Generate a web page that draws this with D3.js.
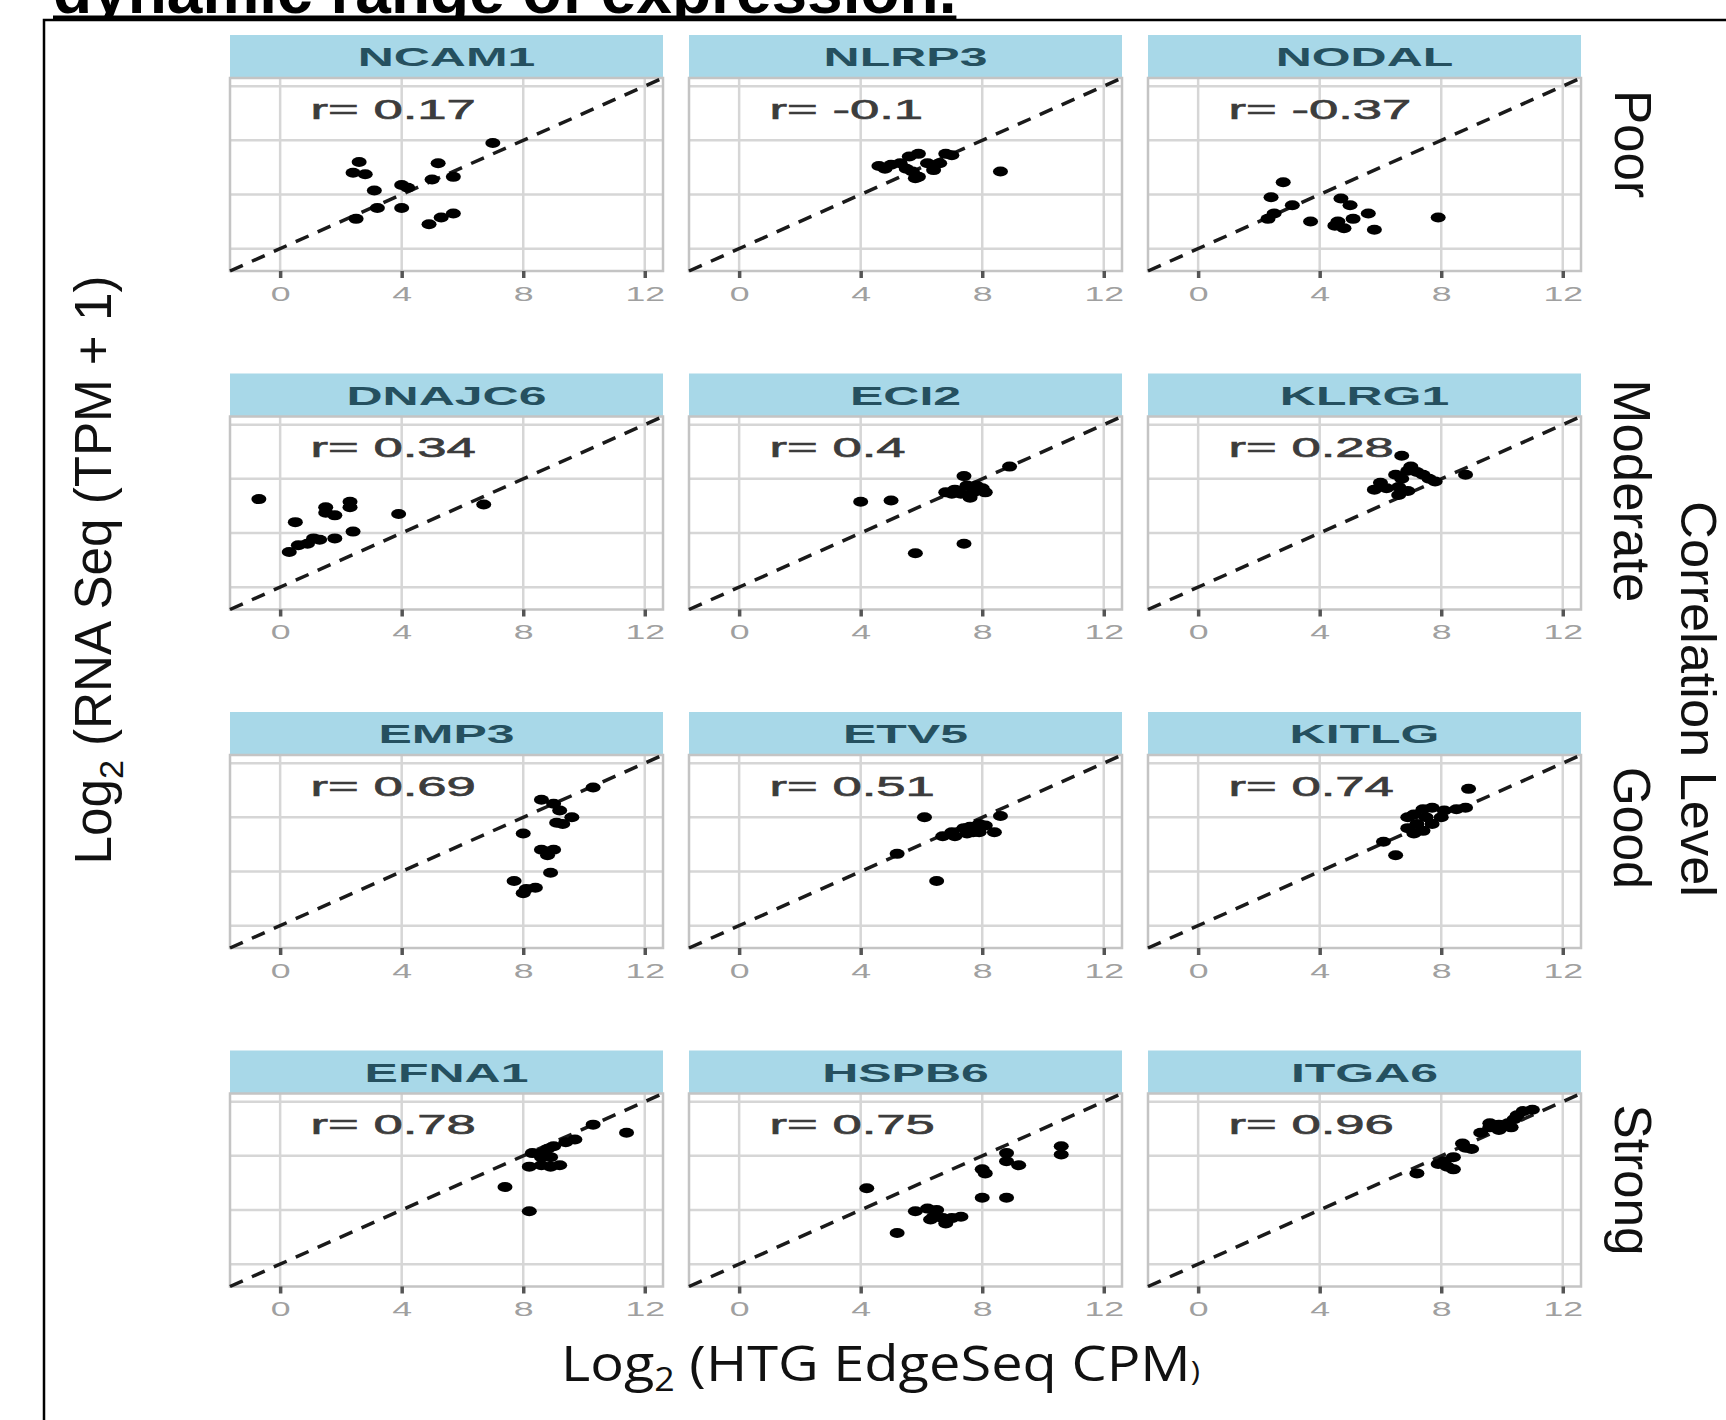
<!DOCTYPE html>
<html>
<head>
<meta charset="utf-8">
<script src="https://cdn.jsdelivr.net/npm/d3@7"></script>
<style>
  body { margin: 0; background: #fff; }
  svg { display: block; }
</style>
</head>
<body>
<div id="chart"></div>
<script>
// facet order: rows = correlation level, cols = 3 genes each
const levels = ['Poor', 'Moderate', 'Good', 'Strong']
const genes = ['NCAM1', 'NLRP3', 'NODAL', 'DNAJC6', 'ECI2', 'KLRG1', 'EMP3', 'ETV5', 'KITLG', 'EFNA1', 'HSPB6', 'ITGA6']
const rLabels = ['0.17', '-0.1', '-0.37', '0.34', '0.4', '0.28', '0.69', '0.51', '0.74', '0.78', '0.75', '0.96']
const xTicks = [0, 4, 8, 12]
const yGrid = [0, 4, 8, 12]

// [HTG EdgeSeq log2 CPM, RNA Seq log2 TPM+1]
const NCAM1 = [[7.0, 7.8], [2.6, 6.4], [2.4, 5.6], [2.8, 5.5], [5.2, 6.3], [5.0, 5.1], [5.7, 5.3], [3.1, 4.3], [4.0, 4.7], [4.2, 4.5], [3.2, 3.0], [4.0, 3.0], [2.5, 2.2], [5.7, 2.6], [5.3, 2.3], [4.9, 1.8]]
const NLRP3 = [[4.6, 6.1], [5.0, 6.2], [5.5, 5.9], [5.9, 7.0], [5.9, 5.3], [6.4, 5.8], [6.8, 7.0], [7.0, 6.9], [6.6, 6.3], [5.7, 5.7], [5.3, 6.3], [6.2, 6.3], [8.6, 5.7], [5.6, 6.8], [4.8, 5.9], [5.8, 5.2]]
const NODAL = [[2.8, 4.9], [2.4, 3.8], [3.1, 3.2], [2.3, 2.2], [2.5, 2.6], [3.7, 2.0], [4.7, 3.7], [5.0, 3.2], [4.6, 2.0], [4.8, 1.5], [5.1, 2.2], [5.6, 2.6], [5.8, 1.4], [7.9, 2.3], [4.5, 1.7]]
const DNAJC6 = [[-0.7, 6.5], [0.5, 4.8], [1.5, 5.9], [1.5, 5.5], [1.8, 5.3], [2.3, 6.3], [2.3, 5.9], [3.9, 5.4], [6.7, 6.1], [2.4, 4.1], [1.8, 3.6], [1.3, 3.5], [0.9, 3.2], [0.6, 3.1], [0.3, 2.6], [1.1, 3.6]]
const ECI2 = [[4.0, 6.3], [5.0, 6.4], [7.4, 8.2], [8.9, 8.9], [6.8, 7.0], [7.1, 7.2], [7.5, 7.5], [7.7, 7.0], [8.0, 7.3], [8.1, 7.0], [7.6, 6.6], [7.3, 6.9], [7.0, 6.9], [7.8, 7.5], [7.4, 3.2], [5.8, 2.5]]
const KLRG1 = [[6.7, 9.7], [7.0, 8.9], [7.2, 8.5], [7.4, 8.3], [7.6, 8.0], [7.8, 7.8], [6.5, 8.3], [6.7, 8.0], [6.9, 8.6], [6.0, 7.7], [5.8, 7.2], [6.2, 7.3], [6.6, 7.4], [6.6, 6.8], [6.9, 7.1], [8.8, 8.3]]
const EMP3 = [[10.3, 10.2], [8.6, 9.3], [9.0, 9.0], [9.2, 8.5], [9.6, 8.0], [9.1, 7.6], [9.3, 7.5], [8.0, 6.8], [8.6, 5.6], [9.0, 5.6], [8.8, 5.2], [8.9, 3.9], [7.7, 3.3], [8.1, 2.7], [8.4, 2.8], [8.0, 2.4]]
const ETV5 = [[6.1, 8.0], [5.2, 5.3], [6.5, 3.3], [6.7, 6.6], [7.0, 6.9], [7.4, 7.2], [7.6, 7.3], [7.9, 7.5], [8.1, 7.4], [8.4, 6.9], [8.6, 8.1], [7.7, 6.9], [7.1, 6.6], [7.5, 6.8], [7.9, 6.9]]
const KITLG = [[8.9, 10.1], [6.1, 6.2], [6.5, 5.2], [6.9, 8.0], [7.1, 8.2], [7.4, 8.6], [7.7, 8.7], [8.1, 8.5], [8.5, 8.6], [8.8, 8.7], [6.9, 7.2], [7.1, 6.8], [7.4, 7.0], [7.7, 7.5], [7.5, 8.0], [8.0, 8.0], [7.2, 7.5]]
const EFNA1 = [[10.3, 10.3], [11.4, 9.7], [9.7, 9.2], [9.4, 9.0], [9.0, 8.7], [8.8, 8.5], [8.6, 8.2], [8.3, 8.2], [8.6, 7.9], [8.9, 7.9], [9.2, 7.3], [8.9, 7.2], [8.6, 7.3], [8.2, 7.2], [7.4, 5.7], [8.2, 3.9]]
const HSPB6 = [[4.2, 5.6], [5.2, 2.3], [5.8, 3.9], [6.2, 4.1], [6.5, 4.0], [6.4, 3.5], [6.7, 3.4], [7.0, 3.4], [7.3, 3.5], [6.8, 3.0], [6.3, 3.3], [8.0, 7.0], [8.1, 6.7], [8.0, 4.9], [8.8, 4.9], [8.8, 8.2], [8.8, 7.6], [9.2, 7.3], [10.6, 8.7], [10.6, 8.1]]
const ITGA6 = [[7.2, 6.7], [7.9, 7.4], [8.4, 7.9], [8.4, 7.0], [8.1, 7.6], [8.2, 7.2], [8.7, 8.9], [8.8, 8.6], [9.0, 8.5], [9.3, 9.7], [9.6, 10.1], [9.9, 10.3], [10.2, 10.4], [10.4, 10.7], [9.9, 9.9], [9.6, 10.4], [10.3, 10.1], [10.7, 11.3], [11.0, 11.4], [10.5, 11.0]]
const points = [NCAM1, NLRP3, NODAL, DNAJC6, ECI2, KLRG1, EMP3, ETV5, KITLG, EFNA1, HSPB6, ITGA6]

const W = 1726, H = 1420
const colX = [230, 689, 1148]
const rowY = [35, 373.5, 712, 1050.5]
const panelW = 433, panelH = 193, stripH = 43
const lim = [-1.65, 12.6]

const svg = d3.select('#chart')
  .append('svg')
  .attr('width', W)
  .attr('height', H)
  .style('font-family', '"Liberation Sans", Arial, sans-serif')

const x = d3.scaleLinear().domain(lim).range([0, panelW])
const y = d3.scaleLinear().domain(lim).range([panelH, 0])

// slide frame + title cut by the crop
svg.append('defs').append('clipPath')
  .attr('id', 'titleClip')
  .append('rect')
  .attr('x', 0).attr('y', 0)
  .attr('width', W).attr('height', 19.5)

const tg = svg.append('g').attr('clip-path', 'url(#titleClip)')
const title = tg.append('text')
  .attr('x', 53)
  .attr('y', 13)
  .attr('font-size', 64)
  .attr('font-weight', 'bold')
  .attr('fill', '#000')
  .text('dynamic range of expression.')
const tw = title.node().getComputedTextLength()
tg.append('rect')
  .attr('x', 53).attr('y', 15.5)
  .attr('width', tw).attr('height', 3.5)
  .attr('fill', '#000')

svg.append('path')
  .attr('d', `M44,${H} V20 H${W}`)
  .attr('fill', 'none')
  .attr('stroke', '#000')
  .attr('stroke-width', 2.5)

// panels
genes.forEach((gene, i) => {
  const row = Math.floor(i / 3), col = i % 3
  const g = svg.append('g')
    .attr('transform', `translate(${colX[col]},${rowY[row]})`)

  // strip
  g.append('rect')
    .attr('width', panelW)
    .attr('height', stripH)
    .attr('fill', '#a8d8e8')
  g.append('text')
    .attr('transform', `translate(${panelW / 2},${stripH / 2 + 1}) scale(2.0,1)`)
    .attr('text-anchor', 'middle')
    .attr('dominant-baseline', 'central')
    .attr('font-size', 25)
    .attr('font-weight', 'bold')
    .attr('fill', '#25505f')
    .text(gene)

  const p = g.append('g').attr('transform', `translate(0,${stripH})`)

  p.append('rect')
    .attr('width', panelW)
    .attr('height', panelH)
    .attr('fill', '#fff')

  // grid
  p.selectAll('.gx')
    .data(xTicks)
    .join('line')
    .attr('x1', d => x(d)).attr('x2', d => x(d))
    .attr('y1', 0).attr('y2', panelH)
    .attr('stroke', '#d6d6d6')
    .attr('stroke-width', 2.5)
  p.selectAll('.gy')
    .data(yGrid)
    .join('line')
    .attr('x1', 0).attr('x2', panelW)
    .attr('y1', d => y(d)).attr('y2', d => y(d))
    .attr('stroke', '#d6d6d6')
    .attr('stroke-width', 2.5)

  p.append('rect')
    .attr('width', panelW)
    .attr('height', panelH)
    .attr('fill', 'none')
    .attr('stroke', '#c4c4c4')
    .attr('stroke-width', 2.5)

  // identity line
  p.append('line')
    .attr('x1', x(lim[0])).attr('y1', y(lim[0]))
    .attr('x2', x(lim[1])).attr('y2', y(lim[1]))
    .attr('stroke', '#1a1a1a')
    .attr('stroke-width', 3.5)
    .attr('stroke-dasharray', '14,10')

  // points
  p.selectAll('ellipse')
    .data(points[i])
    .join('ellipse')
    .attr('cx', d => x(d[0]))
    .attr('cy', d => y(d[1]))
    .attr('rx', 7.5)
    .attr('ry', 5)
    .attr('fill', '#000')

  // r label
  p.append('text')
    .attr('transform', `translate(${x(1.0)},${y(10.3)}) scale(1.95,1)`)
    .attr('dominant-baseline', 'central')
    .attr('font-size', 27)
    .attr('fill', '#3c3c3c')
    .attr('stroke', '#3c3c3c')
    .attr('stroke-width', 0.6)
    .text('r= ' + rLabels[i])

  // x axis
  const ax = p.append('g')
    .attr('transform', `translate(0,${panelH})`)
    .call(d3.axisBottom(x).tickValues(xTicks).tickSize(7).tickPadding(8))
  ax.select('.domain').remove()
  ax.selectAll('.tick line')
    .attr('stroke', '#555')
    .attr('stroke-width', 3.5)
  ax.selectAll('.tick text')
    .attr('transform', 'scale(1.7,1)')
    .attr('font-size', 21)
    .attr('font-family', '"Liberation Sans", Arial, sans-serif')
    .attr('fill', '#a0a0a0')
})

// fit a text node to a given length along its own direction
function fit(sel, len, base) {
  const w = sel.node().getComputedTextLength()
  sel.attr('transform', `${base} scale(${len / w},1)`)
}

// facet row labels
const rowCenters = [144, 491, 828, 1180]
const rowLens = [108, 223, 122, 151]
levels.forEach((lv, r) => {
  const t = svg.append('text')
    .attr('text-anchor', 'middle')
    .attr('dominant-baseline', 'central')
    .attr('font-size', 51)
    .attr('fill', '#111')
    .text(lv)
  fit(t, rowLens[r], `translate(1632,${rowCenters[r]}) rotate(90)`)
})

const corr = svg.append('text')
  .attr('text-anchor', 'middle')
  .attr('dominant-baseline', 'central')
  .attr('font-size', 50)
  .attr('fill', '#111')
  .text('Correlation Level')
fit(corr, 396, 'translate(1698,699) rotate(90)')

// y title
const yt = svg.append('text')
  .attr('text-anchor', 'middle')
  .attr('font-size', 51)
  .attr('fill', '#111')
yt.append('tspan').text('Log')
yt.append('tspan').attr('font-size', 34).attr('dy', 12).text('2')
yt.append('tspan').attr('dy', -12).text(' (RNA Seq (TPM + 1)')
fit(yt, 589, 'translate(111,570) rotate(-90)')

// x title
const xt = svg.append('text')
  .attr('font-size', 50)
  .attr('fill', '#111')
  .style('font-family', '"Open Sans", "Noto Sans", sans-serif')
xt.append('tspan').text('Log')
xt.append('tspan').attr('font-size', 32).attr('dy', 10).text('2')
xt.append('tspan').attr('dy', -10).text(' (HTG EdgeSeq CPM')
xt.append('tspan').attr('font-size', 28).text(')')
fit(xt, 639, 'translate(561,1381)')
</script>
</body>
</html>
